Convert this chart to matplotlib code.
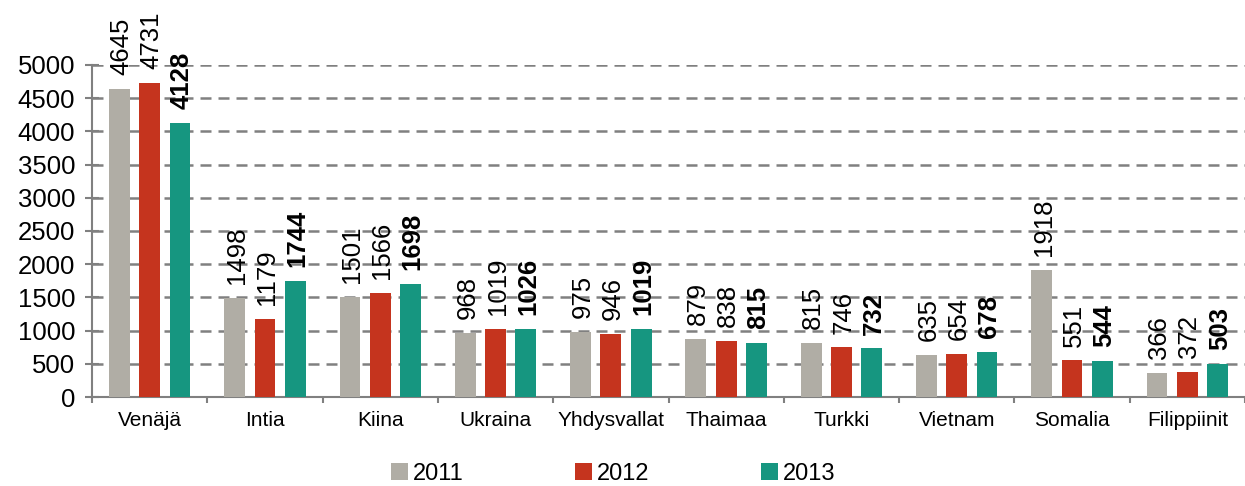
import matplotlib
matplotlib.use("Agg")
from matplotlib import pyplot as plt
import numpy as np

plt.rcParams['font.family'] = ['Liberation Sans', 'DejaVu Sans']

countries = ["Venäjä", "Intia", "Kiina", "Ukraina", "Yhdysvallat", "Thaimaa",
             "Turkki", "Vietnam", "Somalia", "Filippiinit"]
years = ["2011", "2012", "2013"]
v2011 = [4645, 1498, 1501, 968, 975, 879, 815, 635, 1918, 366]
v2012 = [4731, 1179, 1566, 1019, 946, 838, 746, 654, 551, 372]
v2013 = [4128, 1744, 1698, 1026, 1019, 815, 732, 678, 544, 503]
colors = ["#B0ADA5", "#C5341E", "#169680"]

fig = plt.figure(figsize=(12.45, 4.86), dpi=100)
ax = fig.add_axes([92 / 1245, 89 / 486, 1153 / 1245, 332 / 486])

x = np.arange(len(countries))
w = 0.18
step = 0.263
series = [v2011, v2012, v2013]
for i, vals in enumerate(series):
    pos = x + (i - 1) * step
    ax.bar(pos, vals, width=w, color=colors[i], label=years[i], zorder=3)
    for p, v in zip(pos, vals):
        ax.annotate(str(v), (p, v), xytext=(1.5, 10), textcoords="offset points",
                    rotation=90, ha="center", va="bottom", fontsize=18.5,
                    fontweight="bold" if i == 2 else "normal",
                    annotation_clip=False)

ax.set_ylim(0, 5000)
ax.set_xlim(-0.5, -0.5 + 1153 / 116)
ax.set_yticks(np.arange(0, 5001, 500))
ax.yaxis.grid(True, linestyle=(0, (4.4, 2.8)), color="#808080", linewidth=1.8, zorder=0)
ax.set_axisbelow(True)

ax.set_xticks(x)
ax.set_xticklabels(countries, fontsize=15)
ax.set_xticks(np.arange(-0.5, len(countries), 1), minor=True)
ax.tick_params(axis="x", which="major", length=0, pad=10)
ax.tick_params(axis="x", which="minor", length=4, width=1.5, color="#808080", direction="out")
ax.tick_params(axis="y", length=10, width=1.5, color="#808080", direction="inout", labelsize=18.5, pad=7)

for s in ["top", "right"]:
    ax.spines[s].set_visible(False)
for s in ["left", "bottom"]:
    ax.spines[s].set_color("#808080")
    ax.spines[s].set_linewidth(1.5)

ax.legend(loc="center", bbox_to_anchor=(0.452, -0.232), ncol=3, frameon=False,
          fontsize=17, handlelength=0.7, handleheight=0.7, handletextpad=0.2,
          columnspacing=4.75, borderpad=0, borderaxespad=0)

fig.savefig("out.png", dpi=100)
